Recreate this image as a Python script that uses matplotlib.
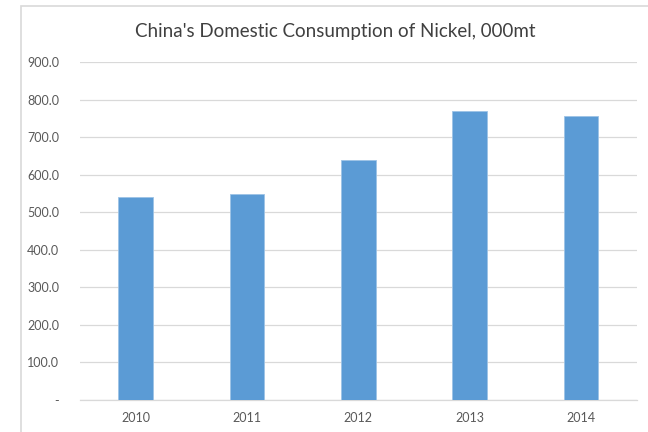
import matplotlib.pyplot as plt
from matplotlib.patches import Rectangle
from matplotlib.ticker import FixedLocator, FuncFormatter

# data
years = ["2010", "2011", "2012", "2013", "2014"]
consumption = [540, 548, 639, 769, 758]
y_ticks = [0, 100, 200, 300, 400, 500, 600, 700, 800, 900]

plt.rcParams['font.family'] = ['Lato', 'DejaVu Sans']

fig = plt.figure(figsize=(6.48, 4.32), dpi=100)

# light frame of the chart area (cut off at right and bottom)
fig.patches.append(Rectangle((21 / 648, -0.1), 1.2, (432 - 6) / 432 + 0.1,
                             transform=fig.transFigure, fill=False,
                             edgecolor='#d9d9d9', linewidth=1.2))

ax = fig.add_axes([80 / 648, 32 / 432, (636.5 - 80) / 648, (400 - 62.3) / 432])

x = range(len(years))
ax.bar(x, consumption, width=0.31, color='#5b9bd5', edgecolor='#9dc3e6',
       linewidth=0.6, zorder=3)

ax.set_xlim(-0.5, len(years) - 0.5)
ax.set_ylim(0, 900)
ax.yaxis.set_major_locator(FixedLocator(y_ticks))
ax.yaxis.set_major_formatter(FuncFormatter(lambda v, p: "-" if v == 0 else f"{v:.1f}"))
ax.set_xticks(list(x))
ax.set_xticklabels(years)

ax.grid(axis='y', color='#d9d9d9', linewidth=0.9, zorder=0)
for s in ['top', 'right', 'left']:
    ax.spines[s].set_visible(False)
ax.spines['bottom'].set_color('#d9d9d9')
ax.spines['bottom'].set_linewidth(0.9)

ax.tick_params(axis='both', length=0, labelsize=9, labelcolor='#595959')
ax.tick_params(axis='y', pad=15)
ax.tick_params(axis='x', pad=9)

fig.text(335 / 648, 1 - 32 / 432, "China's Domestic Consumption of Nickel, 000mt",
         ha='center', va='center', fontsize=13.5, color='#404040')

plt.savefig("out.png", dpi=100)
